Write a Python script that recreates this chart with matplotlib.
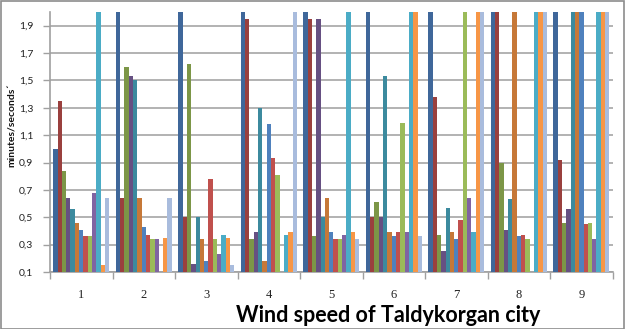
import matplotlib
matplotlib.use("Agg")
import matplotlib.pyplot as plt
import numpy as np

categories = ["1", "2", "3", "4", "5", "6", "7", "8", "9"]
s01 = [1.00, 2.00, 2.00, 2.00, 2.00, 2.00, 2.00, 2.00, 2.00]
s02 = [1.35, 0.64, 0.50, 1.95, 1.95, 0.50, 1.38, 2.00, 0.92]
s03 = [0.84, 1.60, 1.62, 0.34, 0.36, 0.61, 0.37, 0.90, 0.46]
s04 = [0.64, 1.53, 0.16, 0.39, 1.95, 0.50, 0.25, 0.41, 0.56]
s05 = [0.56, 1.50, 0.50, 1.30, 0.50, 1.53, 0.57, 0.63, 2.00]
s06 = [0.46, 0.64, 0.34, 0.18, 0.64, 0.39, 0.39, 2.00, 2.00]
s07 = [0.41, 0.43, 0.18, 1.18, 0.39, 0.36, 0.34, 0.36, 2.00]
s08 = [0.36, 0.37, 0.78, 0.93, 0.34, 0.39, 0.48, 0.37, 0.45]
s09 = [0.36, 0.34, 0.34, 0.81, 0.34, 1.19, 2.00, 0.34, 0.46]
s10 = [0.68, 0.34, 0.23, 0.00, 0.37, 0.39, 0.64, 0.00, 0.34]
s11 = [2.00, 0.00, 0.37, 0.37, 2.00, 2.00, 0.39, 2.00, 2.00]
s12 = [0.15, 0.35, 0.35, 0.39, 0.39, 2.00, 2.00, 2.00, 2.00]
s13 = [0.64, 0.64, 0.15, 2.00, 0.34, 0.36, 2.00, 2.00, 2.00]
series = [s01, s02, s03, s04, s05, s06, s07, s08, s09, s10, s11, s12, s13]

colors = ["#3F679A", "#9A403E", "#7C9647", "#665082", "#3C8A9E", "#C67838",
          "#4F81BD", "#C0504D", "#9BBB59", "#8064A2", "#4BACC6", "#F79646",
          "#A9BCDD"]

yticks = [0.1, 0.3, 0.5, 0.7, 0.9, 1.1, 1.3, 1.5, 1.7, 1.9]

W, H = 625, 329
fig = plt.figure(figsize=(W / 100, H / 100), dpi=100)
ax = fig.add_axes([50 / W, 1 - 272 / H, (612.6 - 50) / W, (272 - 12) / H])

n = len(series)
bw = 1.0 / (n + 1.5)
x = np.arange(len(categories))
for i, (vals, c) in enumerate(zip(series, colors)):
    ax.bar(x - n * bw / 2 + (i + 0.5) * bw, vals, width=bw, color=c,
           edgecolor="none", zorder=3)

ax.set_xlim(-0.5, len(categories) - 0.5)
ax.set_ylim(0.1, 2.0)
ax.set_yticks(yticks)
ax.set_yticklabels([f"{v:.1f}".replace(".", ",") for v in yticks],
                   fontsize=7.5, family="Lato", color="#222222")
ax.set_xticks(x)
ax.set_xticklabels(categories, fontsize=9, family="Liberation Serif", color="#222222")
ax.set_xticks(np.arange(len(categories) + 1) - 0.5, minor=True)
ax.tick_params(axis="x", which="major", length=0, pad=12)
ax.tick_params(axis="x", which="minor", length=5, width=1, color="#A0A0A0", direction="out")
ax.tick_params(axis="y", length=5, width=1, color="#A0A0A0", direction="out", pad=7)

ax.grid(axis="y", color="#A6A6A6", linewidth=1.2, zorder=0)
for s in ["top", "right"]:
    ax.spines[s].set_visible(False)
for s in ["left", "bottom"]:
    ax.spines[s].set_color("#A0A0A0")
    ax.spines[s].set_linewidth(1.2)

fig.text(12 / W, 1 - 125 / H, "minutes/seconds\u00b4", rotation=90,
         fontsize=7.5, fontweight="bold", family="Lato",
         ha="center", va="center", color="#111111")
fig.text(388 / W, 1 - 316 / H, "Wind speed of Taldykorgan city",
         fontsize=15.5, fontweight="bold", family="Lato",
         ha="center", va="center", color="#000000")

border = plt.Rectangle((0.5 / W, 0.5 / H), 1 - 1.5 / W, 1 - 1.5 / H,
                       transform=fig.transFigure, fill=False,
                       edgecolor="#8C8C8C", linewidth=1.2)
fig.patches.append(border)

fig.savefig("out.png", dpi=100, facecolor="white")
